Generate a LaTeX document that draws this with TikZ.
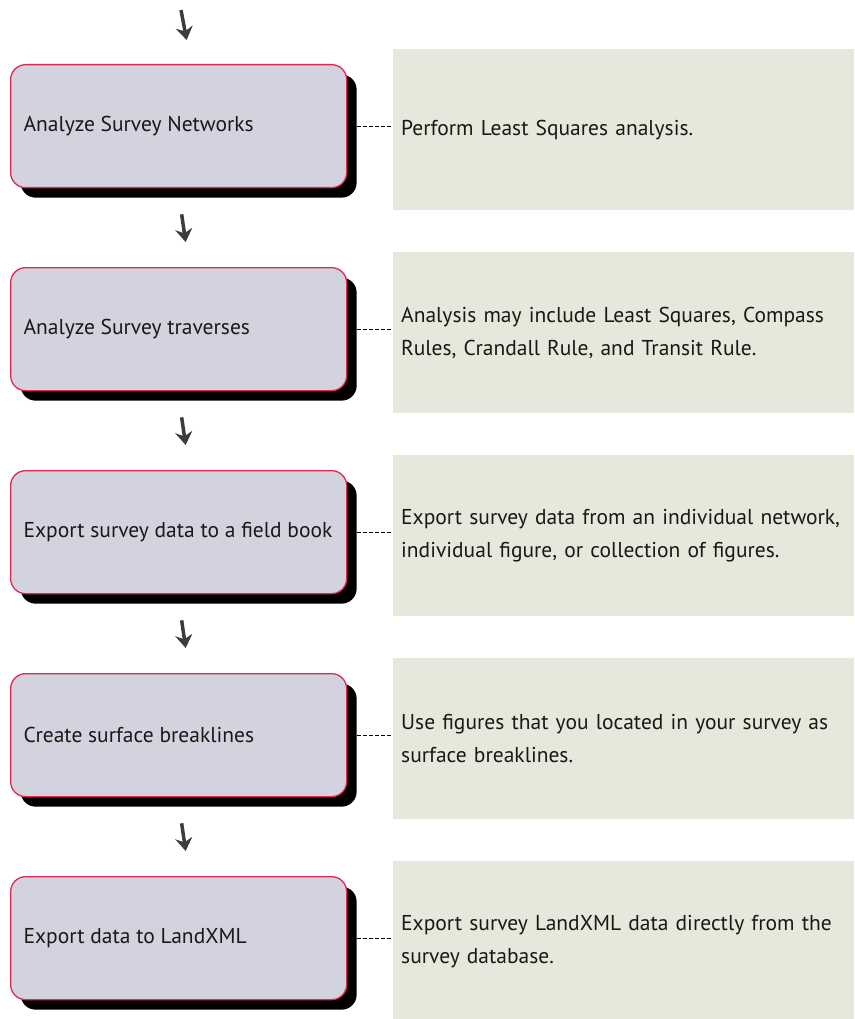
\documentclass[tikz,border=0pt]{standalone}
\usepackage{fontspec}
\setmainfont{PT Sans}
\usetikzlibrary{arrows.meta,shadows}

\definecolor{boxfill}{HTML}{D3D3DF}
\definecolor{boxline}{HTML}{DE2A52}
\definecolor{notefill}{HTML}{E5E8DA}
\definecolor{arrowgray}{HTML}{3C3C3C}

\newcommand{\steplabel}[1]{\makebox[310pt][l]{#1}}

\tikzset{
	stepbox/.style={draw=boxline, line width=1.3pt, fill=boxfill, rounded corners=15pt,
		minimum width=336pt, minimum height=123pt, inner xsep=13pt, inner ysep=0pt,
		anchor=north west, text=black!90,
		font=\fontsize{21.5}{33}\selectfont,
		drop shadow={shadow xshift=10pt, shadow yshift=-10pt, fill=black, opacity=1}},
	notebox/.style={fill=notefill, minimum width=461pt, minimum height=161pt,
		text width=445pt, align=left, inner sep=0pt, anchor=north west, text=black!90,
		font=\fontsize{21.5}{33}\selectfont},
	flowarrow/.style={arrowgray, line width=3.5pt, -{Stealth[length=13pt,width=17pt]}},
	link/.style={black, line width=0.9pt, dash pattern=on 4pt off 2pt, shorten <=10pt}
}

\begin{document}
\begin{tikzpicture}[x=1pt, y=-1pt]
					\useasboundingbox (0,0) rectangle (854,1019);

					% Steps on the left, notes on the right
						\foreach \i/\lab/\txt in {
							1/{Analyze Survey Networks}/{Perform Least Squares analysis.},
							2/{Analyze Survey traverses}/{Analysis may include Least Squares, Compass\\Rules, Crandall Rule, and Transit Rule.},
							3/{Export survey data to a field book}/{Export survey data from an individual network,\\individual figure, or collection of figures.},
							4/{Create surface breaklines}/{Use figures that you located in your survey as\\surface breaklines.},
							5/{Export data to LandXML}/{Export survey LandXML data directly from the\\survey database.}} {
								\node [notebox] (d\i) at (393, {49 + 203*(\i-1)}) {\txt};
								\node [stepbox] (b\i) at (10, {64 + 203*(\i-1)}) {\steplabel{\lab}};
								\draw [link] (b\i.east) -- (b\i.east -| d\i.west);
								}

					% Arrows between the steps
						\coordinate (top) at (181,10);
						\draw [flowarrow] (top) -- ([shift={(8,-24)}]b1.north);
						\foreach \i/\j in {1/2, 2/3, 3/4, 4/5} {
							\draw [flowarrow] ([shift={(3,26)}]b\i.south) -- ([shift={(7,-25)}]b\j.north);
							}

\end{tikzpicture}
\end{document}
